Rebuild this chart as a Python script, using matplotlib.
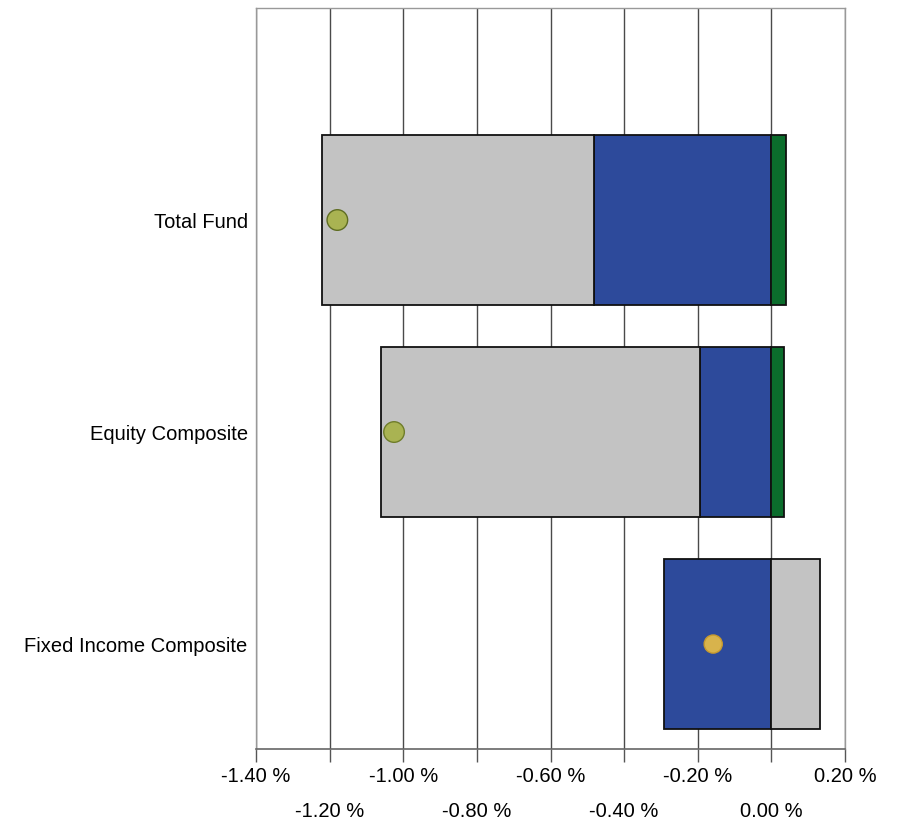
import numpy as np
import matplotlib
matplotlib.use("Agg")
import matplotlib.pyplot as plt

categories = ["Total Fund", "Equity Composite", "Fixed Income Composite"]
allocation = [-0.481, -0.193, -0.291]   # blue
interaction = [0.041, 0.035, 0.0]       # green
selection = [-0.739, -0.867, 0.133]     # gray
marker_colors = ["#a9b352", "#a9b352", "#d8b34c"]
marker_edges = ["#5f6d22", "#6f7d2a", "#c79a2e"]
marker_sizes = [220, 220, 170]

tick_values = [-1.40, -1.20, -1.00, -0.80, -0.60, -0.40, -0.20, 0.00, 0.20]
tick_labels = ["%.2f %%" % v for v in tick_values]

plt.rcParams["font.family"] = ["Liberation Sans", "DejaVu Sans"]

fig = plt.figure(figsize=(8.98, 8.25), dpi=100)
ax = fig.add_axes([256 / 898, 1 - 749 / 825, (845 - 256) / 898, (749 - 8) / 825])

y = np.arange(len(categories))
pos = np.zeros(len(categories))
neg = np.zeros(len(categories))
series = [(allocation, "#2d4a9b"), (interaction, "#0b6d2c"), (selection, "#c3c3c3")]
for vals, col in series:
    vals = np.asarray(vals, dtype=float)
    left = np.where(vals >= 0, pos, neg)
    ax.barh(y, vals, left=left, height=0.8, color=col, edgecolor="#111111",
            linewidth=1.3, zorder=2)
    pos = pos + np.where(vals >= 0, vals, 0)
    neg = neg + np.where(vals < 0, vals, 0)

totals = np.asarray(allocation) + np.asarray(interaction) + np.asarray(selection)
ax.scatter(totals, y, s=marker_sizes, c=marker_colors, edgecolors=marker_edges,
           linewidths=1.0, zorder=4)

ax.set_xlim(-1.40, 0.20)
ax.set_ylim(2.495, -1.0)
ax.set_yticks(y)
ax.set_yticklabels(categories, fontsize=14.5)
ax.tick_params(axis="y", length=0, pad=6)

major = tick_values[0::2]
minor = tick_values[1::2]
ax.set_xticks(major)
ax.set_xticklabels(tick_labels[0::2], fontsize=14.5)
ax.set_xticks(minor, minor=True)
ax.set_xticklabels(tick_labels[1::2], minor=True, fontsize=14.5)
ax.tick_params(axis="x", which="major", length=9, width=1, color="#555555", pad=4)
ax.tick_params(axis="x", which="minor", length=9, width=1, color="#555555", pad=29)

ax.set_axisbelow(True)
ax.grid(axis="x", which="both", color="#4a4a4a", linewidth=1.0)

for side in ["left", "right", "top"]:
    ax.spines[side].set_color("#999999")
    ax.spines[side].set_linewidth(1.0)
ax.spines["bottom"].set_color("#666666")
ax.spines["bottom"].set_linewidth(1.2)

fig.savefig("out.png", dpi=100, facecolor="white")
